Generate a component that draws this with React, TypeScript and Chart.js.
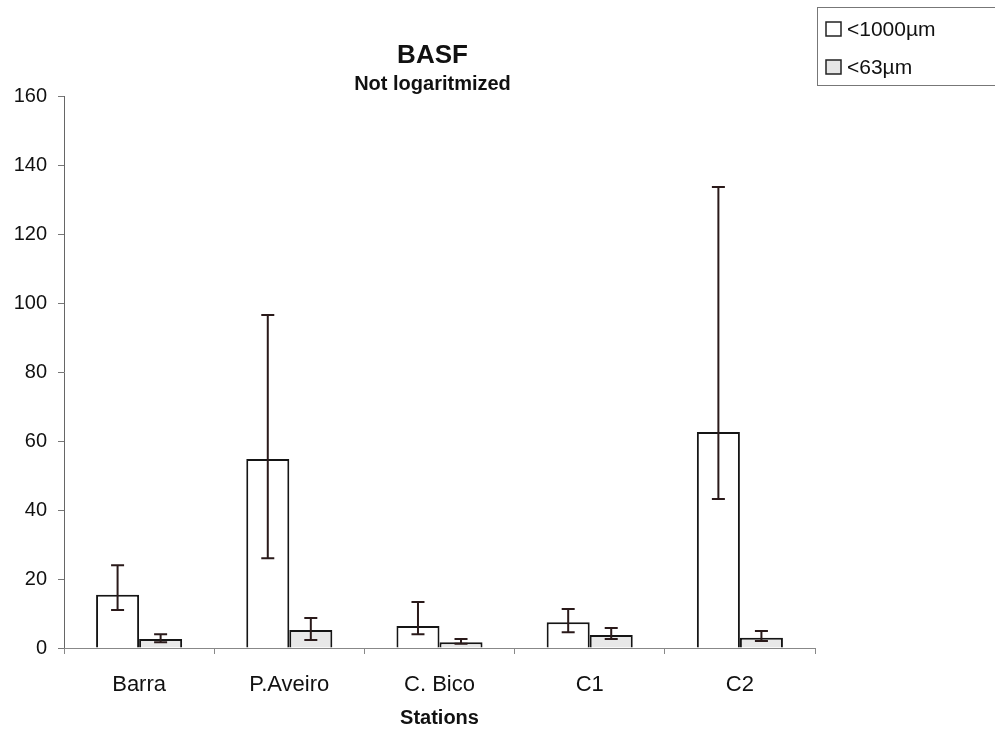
import React, { useEffect, useRef } from "react";
import { Chart, registerables } from "chart.js";

Chart.register(...registerables);

const categories = ["Barra", "P.Aveiro", "C. Bico", "C1", "C2"];
const coarseLabel = "<1000µm";
const fineLabel = "<63µm";
const coarseValues = [15.4, 54.8, 6.4, 7.5, 62.6];
const coarseLow = [11, 26, 4, 4.6, 43.2];
const coarseHigh = [24, 96.5, 13.3, 11.3, 133.6];
const fineValues = [2.6, 5.2, 1.7, 3.8, 3.0];
const fineLow = [1.7, 2.3, 1.2, 2.6, 2.0];
const fineHigh = [4, 8.7, 2.6, 5.8, 4.9];
const yTicks = [0, 20, 40, 60, 80, 100, 120, 140, 160];

const FONT = "'Liberation Sans', Arial, sans-serif";

const errorBarPlugin = {
  id: "errorBars",
  afterDatasetsDraw(chart: any) {
    const ctx = chart.ctx;
    const y = chart.scales.y;
    const sets = [
      { low: coarseLow, high: coarseHigh },
      { low: fineLow, high: fineHigh },
    ];
    ctx.save();
    ctx.strokeStyle = "#2a1a1a";
    ctx.lineWidth = 2;
    sets.forEach((s, di) => {
      const meta = chart.getDatasetMeta(di);
      meta.data.forEach((el: any, i: number) => {
        const x = el.x;
        const yl = y.getPixelForValue(s.low[i]);
        const yh = y.getPixelForValue(s.high[i]);
        const cap = 6.5;
        ctx.beginPath();
        ctx.moveTo(x, yl);
        ctx.lineTo(x, yh);
        ctx.moveTo(x - cap, yl);
        ctx.lineTo(x + cap, yl);
        ctx.moveTo(x - cap, yh);
        ctx.lineTo(x + cap, yh);
        ctx.stroke();
      });
    });
    ctx.restore();
  },
};

const decorPlugin = {
  id: "decor",
  afterDraw(chart: any) {
    const ctx = chart.ctx;
    const area = chart.chartArea;
    const cx = (area.left + area.right) / 2 - 7;
    ctx.save();
    ctx.fillStyle = "#111";
    ctx.textAlign = "center";
    ctx.textBaseline = "middle";
    ctx.font = `bold 26px ${FONT}`;
    ctx.fillText("BASF", cx, 56);
    ctx.font = `bold 20px ${FONT}`;
    ctx.fillText("Not logaritmized", cx, 84);
    // legend
    ctx.strokeStyle = "#777";
    ctx.lineWidth = 1;
    ctx.strokeRect(817.5, 7.5, 200, 78);
    const items = [
      { label: coarseLabel, fill: "#ffffff", y: 29 },
      { label: fineLabel, fill: "#e6e6e6", y: 67 },
    ];
    ctx.textAlign = "left";
    ctx.font = `21px ${FONT}`;
    items.forEach((it) => {
      ctx.fillStyle = it.fill;
      ctx.fillRect(826, it.y - 7, 15, 14);
      ctx.strokeStyle = "#222";
      ctx.lineWidth = 1.5;
      ctx.strokeRect(826, it.y - 7, 15, 14);
      ctx.fillStyle = "#111";
      ctx.fillText(it.label, 847, it.y + 1);
    });
    ctx.restore();
  },
};

export default function App() {
  const ref = useRef<HTMLCanvasElement | null>(null);
  useEffect(() => {
    if (!ref.current) return;
    const chart = new Chart(ref.current, {
      type: "bar",
      data: {
        labels: categories,
        datasets: [
          {
            label: coarseLabel,
            data: coarseValues,
            backgroundColor: "#ffffff",
            borderColor: "#151515",
            borderWidth: 2,
            categoryPercentage: 0.573,
            barPercentage: 1,
          },
          {
            label: fineLabel,
            data: fineValues,
            backgroundColor: "#e8e8e8",
            borderColor: "#151515",
            borderWidth: 2,
            categoryPercentage: 0.573,
            barPercentage: 1,
          },
        ],
      },
      options: {
        responsive: false,
        animation: false,
        layout: { padding: { top: 96, right: 180, left: 0, bottom: 0 } },
        plugins: {
          legend: { display: false },
          title: { display: false },
          tooltip: { enabled: false },
        },
        scales: {
          y: {
            min: 0,
            max: 160,
            afterFit: (s: any) => {
              s.width = 64;
            },
            afterBuildTicks: (s: any) => {
              s.ticks = yTicks.map((v) => ({ value: v }));
            },
            ticks: {
              color: "#111",
              font: { family: FONT, size: 20 },
              padding: 11,
            },
            grid: {
              drawOnChartArea: false,
              drawTicks: true,
              tickLength: 6,
              color: "#777",
            },
            border: { display: true, color: "#666", width: 1 },
          },
          x: {
            afterFit: (s: any) => {
              s.height = 736 - 648;
            },
            ticks: {
              color: "#111",
              font: { family: FONT, size: 22 },
              padding: 18,
            },
            grid: {
              offset: true,
              drawOnChartArea: false,
              drawTicks: true,
              tickLength: 6,
              color: "#888",
            },
            border: { display: true, color: "#888", width: 1 },
            title: {
              display: true,
              text: "Stations",
              color: "#111",
              font: { family: FONT, size: 20, weight: "bold" },
              padding: { top: 4, bottom: 6 },
            },
          },
        },
      },
      plugins: [errorBarPlugin, decorPlugin],
    });
    return () => chart.destroy();
  }, []);
  return (
    <div style={{ position: "fixed", left: 0, top: 0, width: 995, height: 736, background: "#fff" }}>
      <canvas ref={ref} width={995} height={736} style={{ display: "block" }} />
    </div>
  );
}
